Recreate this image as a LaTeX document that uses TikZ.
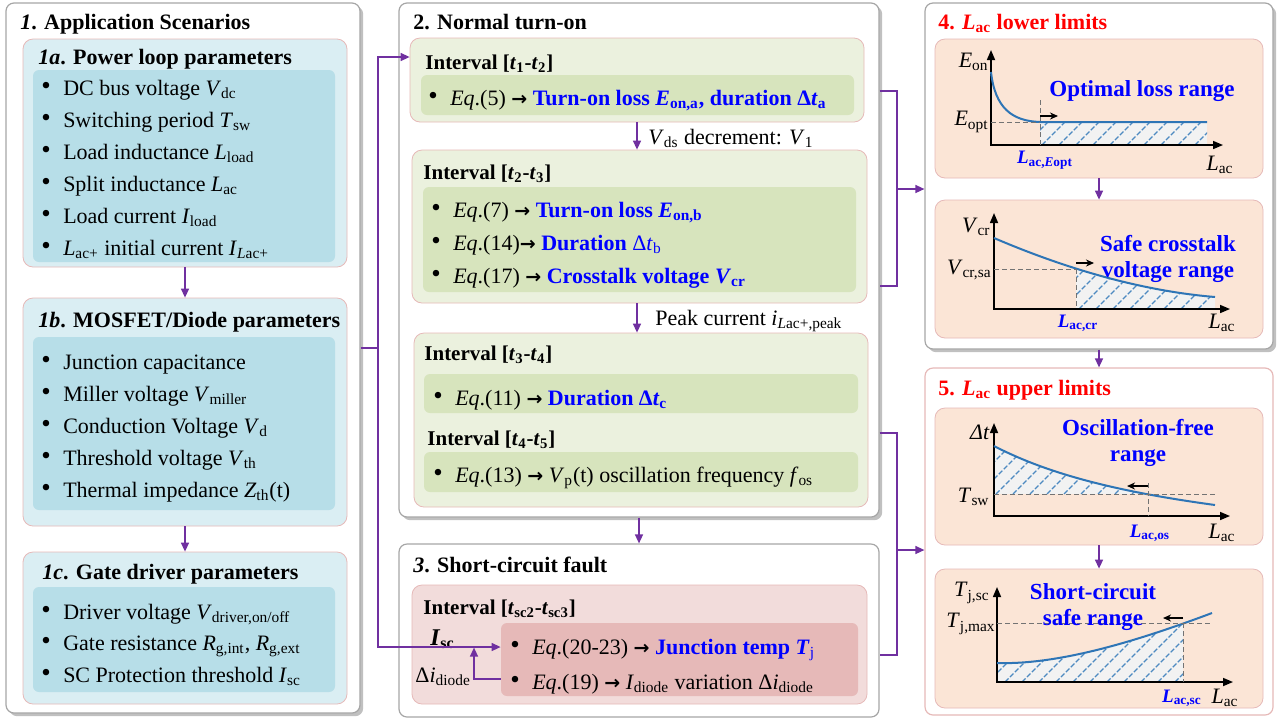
\documentclass[tikz,border=0pt]{standalone}
\usepackage{fontspec}
\setmainfont{Liberation Serif}
\newfontfamily\arrowfont{DejaVu Sans}
\usepackage{xcolor}
\usetikzlibrary{arrows.meta,fit,shadows}

\definecolor{flowpurple}{HTML}{7030A0}
\definecolor{panelgray}{HTML}{A6A6A6}
\definecolor{boxborder}{HTML}{E6B9B8}
\definecolor{blueouter}{HTML}{DAEEF3}
\definecolor{blueinner}{HTML}{B7DEE8}
\definecolor{greenouter}{HTML}{EBF1DE}
\definecolor{greeninner}{HTML}{D7E4BD}
\definecolor{pinkouter}{HTML}{F2DCDB}
\definecolor{pinkinner}{HTML}{E6B9B8}
\definecolor{peachbox}{HTML}{FBE5D6}
\definecolor{curveblue}{HTML}{2E75B6}
\definecolor{hatchgray}{HTML}{F2F2F2}
\definecolor{textblue}{HTML}{0000FF}
\definecolor{titlered}{HTML}{FF0000}

\newcommand{\vs}[2]{\textit{#1}\textsubscript{#2}}
\newcommand{\itembul}{\raisebox{0.3pt}{\fontsize{13.5}{13}\selectfont\textbullet}\hspace{6.2pt}}
\newcommand{\eqarrow}{{\arrowfont\bfseries\fontsize{9.5}{9}\selectfont →}}

\begin{document}
\begin{tikzpicture}[x=0.5pt, y=-0.5pt,
    panel/.style={draw=panelgray, fill=white, rounded corners=4pt, line width=0.6pt, inner sep=0pt,
        drop shadow={shadow xshift=1.6pt, shadow yshift=-1.6pt, opacity=0.45, fill=black!55}},
    plain_panel/.style={draw=boxborder, fill=white, rounded corners=4pt, line width=0.6pt, inner sep=0pt},
    blue_box/.style={draw=boxborder, fill=blueouter, rounded corners=5pt, line width=0.4pt, inner sep=0pt},
    blue_inner/.style={fill=blueinner, rounded corners=3pt, inner sep=0pt},
    green_box/.style={draw=boxborder, fill=greenouter, rounded corners=5pt, line width=0.4pt, inner sep=0pt},
    green_inner/.style={fill=greeninner, rounded corners=3pt, inner sep=0pt},
    pink_box/.style={draw=boxborder, fill=pinkouter, rounded corners=5pt, line width=0.4pt, inner sep=0pt},
    pink_inner/.style={fill=pinkinner, rounded corners=3pt, inner sep=0pt},
    peach_box/.style={draw=boxborder, fill=peachbox, rounded corners=5pt, line width=0.4pt, inner sep=0pt},
    title_text/.style={anchor=base west, inner sep=0pt, font=\fontsize{11}{13}\selectfont\bfseries},
    head_text/.style={anchor=base west, inner sep=0pt, font=\fontsize{10.5}{13}\selectfont\bfseries},
    item_text/.style={anchor=base west, inner sep=0pt, font=\fontsize{11}{13}\selectfont},
    plot_label/.style={inner sep=0pt, font=\fontsize{11}{12}\selectfont},
    tick_label/.style={inner sep=0pt, text=textblue, font=\fontsize{9.5}{11}\selectfont\bfseries},
    range_text/.style={inner sep=0pt, align=center, text=textblue, font=\fontsize{11.5}{11}\selectfont\bfseries},
    flow_line/.style={draw=flowpurple, line width=0.7pt},
    flow_arrow/.style={flow_line, -{Triangle[length=4.5pt, width=4pt]}},
    axis_line/.style={line width=0.8pt, {Triangle[length=5pt, width=4pt]}-{Triangle[length=5pt, width=4pt]}},
    curve_line/.style={draw=curveblue, line width=1pt},
    hatch_line/.style={draw=curveblue!85, line width=0.6pt, dash pattern=on 2.5pt off 1pt},
    guide_line/.style={draw=black!55, line width=0.4pt, dash pattern=on 2.5pt off 1.5pt},
    small_arrow/.style={line width=0.6pt, -{Stealth[length=4pt, width=3.5pt]}}
]
\useasboundingbox (0,0) rectangle (1278,719);

    % --- Panels ---
    \node[panel, fit={(6,3) (360,713)}] (p1) {};
    \node[panel, fit={(399,3) (879,517)}] (p2) {};
    \node[plain_panel, draw=panelgray, fit={(399,544) (879,717)}] (p3) {};
    \node[panel, fit={(925,3) (1273,349)}] (p4) {};
    \node[plain_panel, fit={(925,368) (1273,715)}] (p5) {};

    % --- 1. Application scenarios ---
    \node[title_text] (t_p1) at (20,29) {\textit{1}. Application Scenarios};

    \node[blue_box, fit={(23,39) (347,267)}] (b1a) {};
    \node[blue_inner, fit={(33,70) (335,262)}] (b1a_in) {};
    \node[title_text] (t_b1a) at (38,64) {\textit{1a}. Power loop parameters};
    \node[item_text] (a1) at (41,95) {\itembul DC bus voltage \vs{V}{dc}};
    \node[item_text] (a2) at (41,127) {\itembul Switching period \vs{T}{sw}};
    \node[item_text] (a3) at (41,159) {\itembul Load inductance \vs{L}{load}};
    \node[item_text] (a4) at (41,191) {\itembul Split inductance \vs{L}{ac}};
    \node[item_text] (a5) at (41,223) {\itembul Load current \vs{I}{load}};
    \node[item_text] (a6) at (41,255) {\itembul \vs{L}{ac+} initial current \textit{I}\textsubscript{\textit{L}ac+}};

    \node[blue_box, fit={(23,298) (347,526)}] (b1b) {};
    \node[blue_inner, fit={(33,337) (335,510)}] (b1b_in) {};
    \node[title_text] (t_b1b) at (38,327) {\textit{1b}. MOSFET/Diode parameters};
    \node[item_text] (m1) at (41,369) {\itembul Junction capacitance};
    \node[item_text] (m2) at (41,401) {\itembul Miller voltage \vs{V}{miller}};
    \node[item_text] (m3) at (41,433) {\itembul Conduction Voltage \vs{V}{d}};
    \node[item_text] (m4) at (41,465) {\itembul Threshold voltage \vs{V}{th}};
    \node[item_text] (m5) at (41,497) {\itembul Thermal impedance \vs{Z}{th}(t)};

    \node[blue_box, fit={(23,552) (347,704)}] (b1c) {};
    \node[blue_inner, fit={(33,587) (335,692)}] (b1c_in) {};
    \node[title_text] (t_b1c) at (42,579) {\textit{1c}. Gate driver parameters};
    \node[item_text] (g1) at (41,619) {\itembul Driver voltage \vs{V}{driver,on/off}};
    \node[item_text] (g2) at (41,650) {\itembul Gate resistance \vs{R}{g,int}, \vs{R}{g,ext}};
    \node[item_text] (g3) at (41,682) {\itembul SC Protection threshold \vs{I}{sc}};

    % --- 2. Normal turn-on ---
    \node[title_text] (t_p2) at (413,29) {2. Normal turn-on};

    \node[green_box, fit={(410,38) (864,122)}] (i12) {};
    \node[green_inner, fit={(421,75) (854,115)}] (i12_in) {};
    \node[head_text] (t_i12) at (425,69) {Interval [\textit{t}\textsubscript{1}-\textit{t}\textsubscript{2}]};
    \node[item_text] (e5) at (428,105) {\itembul \textit{Eq}.(5) \eqarrow{} \textcolor{textblue}{\textbf{Turn-on loss \textit{E}\textsubscript{on,a}, duration Δ\textit{t}\textsubscript{a}}}};
    \node[item_text] (l_vds) at (648,144) {\vs{V}{ds} decrement: \vs{V}{1}};

    \node[green_box, fit={(412,150) (867,303)}] (i23) {};
    \node[green_inner, fit={(423,187) (856,292)}] (i23_in) {};
    \node[head_text] (t_i23) at (423,179) {Interval [\textit{t}\textsubscript{2}-\textit{t}\textsubscript{3}]};
    \node[item_text] (e7) at (431,217) {\itembul \textit{Eq}.(7) \eqarrow{} \textcolor{textblue}{\textbf{Turn-on loss \textit{E}\textsubscript{on,b}}}};
    \node[item_text] (e14) at (431,250) {\itembul \textit{Eq}.(14)\eqarrow{} \textcolor{textblue}{\textbf{Duration} Δ\textit{t}\textsubscript{b}}};
    \node[item_text] (e17) at (431,283) {\itembul \textit{Eq}.(17) \eqarrow{} \textcolor{textblue}{\textbf{Crosstalk voltage \textit{V}\textsubscript{cr}}}};
    \node[item_text] (l_peak) at (655,325) {Peak current \textit{i}\textsubscript{\textit{L}ac+,peak}};

    \node[green_box, fit={(414,333) (868,507)}] (i35) {};
    \node[green_inner, fit={(424,374) (858,413)}] (i34_in) {};
    \node[green_inner, fit={(424,452) (858,492)}] (i45_in) {};
    \node[head_text] (t_i34) at (424,360) {Interval [\textit{t}\textsubscript{3}-\textit{t}\textsubscript{4}]};
    \node[item_text] (e11) at (433,405) {\itembul \textit{Eq}.(11) \eqarrow{} \textcolor{textblue}{\textbf{Duration Δ\textit{t}\textsubscript{c}}}};
    \node[head_text] (t_i45) at (427,445) {Interval [\textit{t}\textsubscript{4}-\textit{t}\textsubscript{5}]};
    \node[item_text] (e13) at (433,482) {\itembul \textit{Eq}.(13) \eqarrow{} \vs{V}{p}(t) oscillation frequency \vs{f}{os}};

    % --- 3. Short-circuit fault ---
    \node[title_text] (t_p3) at (413,572) {\textit{3}. Short-circuit fault};
    \node[pink_box, fit={(412,585) (867,704)}] (isc) {};
    \node[pink_inner, fit={(501,623) (858,696)}] (isc_in) {};
    \node[head_text] (t_isc) at (423,614) {Interval [\textit{t}\textsubscript{sc2}-\textit{t}\textsubscript{sc3}]};
    \node[item_text] (e20) at (510,654) {\itembul \textit{Eq}.(20-23) \eqarrow{} \textcolor{textblue}{\textbf{Junction temp \textit{T}}\textsubscript{j}}};
    \node[item_text] (e19) at (510,689) {\itembul \textit{Eq}.(19) \eqarrow{} \vs{I}{diode} variation Δ\vs{i}{diode}};
    \node[item_text, font=\fontsize{12}{13}\selectfont\bfseries] (l_isc) at (430,645) {\vs{I}{sc}};
    \node[item_text] (l_di) at (415,682) {Δ\vs{i}{diode}};

    % --- 4. Lac lower limits ---
    \node[title_text, text=titlered] (t_p4) at (938,29) {4. \textit{L}\textsubscript{ac} lower limits};
    \node[peach_box, fit={(935,39) (1263,178)}] (s4a) {};
    \node[peach_box, fit={(935,200) (1263,338)}] (s4b) {};

    % plot: turn-on loss
    \begin{scope}
        \clip (1040,122) rectangle (1207,145);
        \fill[hatchgray] (1040,122) rectangle (1207,145);
        \foreach \hx in {1008,1025,...,1210} \draw[hatch_line] (\hx,145) -- ++(30,-30);
    \end{scope}
    \draw[axis_line] (991,50) -- (991,145) -- (1223,145);
    \draw[curve_line] (991,72) .. controls (995,108) and (1012,121) .. (1040,122) -- (1207,122);
    \draw[guide_line] (991,122) -- (1040,122);
    \draw[guide_line] (1040,100) -- (1040,145);
    \draw[small_arrow] (1040,116) -- (1058,116);
    \node[plot_label, anchor=east] (y_eon) at (989,62) {\vs{E}{on}};
    \node[plot_label, anchor=east] (y_eopt) at (989,122) {\vs{E}{opt}};
    \node[tick_label] (x_eopt) at (1045,160) {\textit{L}\textsubscript{ac,\textit{E}opt}};
    \node[plot_label] (x_lac1) at (1220,165) {\vs{L}{ac}};
    \node[range_text] (r_loss) at (1142,91) {Optimal loss range};

    % plot: crosstalk voltage
    \begin{scope}
        \clip (1076,200) rectangle (1230,309);
        \clip (994,238) .. controls (1050,262) and (1130,290) .. (1215,297) -- (1215,309) -- (994,309) -- cycle;
        \fill[hatchgray] (994,200) rectangle (1230,309);
        \foreach \hx in {1028,1045,...,1230} \draw[hatch_line] (\hx,309) -- ++(50,-50);
    \end{scope}
    \draw[axis_line] (994,213) -- (994,309) -- (1230,309);
    \draw[curve_line] (994,238) .. controls (1050,262) and (1130,290) .. (1215,297);
    \draw[guide_line] (994,269) -- (1076,269);
    \draw[guide_line] (1076,269) -- (1076,309);
    \draw[small_arrow] (1076,263) -- (1094,263);
    \node[plot_label, anchor=east] (y_vcr) at (991,227) {\vs{V}{cr}};
    \node[plot_label, anchor=east] (y_vcrsa) at (992,270) {\vs{V}{cr,sa}};
    \node[tick_label] (x_cr) at (1078,323) {\vs{L}{ac,cr}};
    \node[plot_label] (x_lac2) at (1222,323) {\vs{L}{ac}};
    \node[range_text] (r_cross) at (1168,259) {Safe crosstalk\\[2pt]voltage range};

    % --- 5. Lac upper limits ---
    \node[title_text, text=titlered] (t_p5) at (938,395) {5. \textit{L}\textsubscript{ac} upper limits};
    \node[peach_box, fit={(935,408) (1263,545)}] (s5a) {};
    \node[peach_box, fit={(935,569) (1263,708)}] (s5b) {};

    % plot: oscillation
    \begin{scope}
        \clip (994,400) rectangle (1148,494);
        \clip (994,446) .. controls (1050,475) and (1120,492) .. (1215,505) -- (1215,530) -- (994,530) -- cycle;
        \fill[hatchgray] (994,400) rectangle (1148,494);
        \foreach \hx in {945,962,...,1160} \draw[hatch_line] (\hx,494) -- ++(55,-55);
    \end{scope}
    \draw[axis_line] (994,423) -- (994,516) -- (1230,516);
    \draw[curve_line] (994,446) .. controls (1050,475) and (1120,492) .. (1215,505);
    \draw[guide_line] (994,494) -- (1215,494);
    \draw[guide_line] (1148,483) -- (1148,516);
    \draw[small_arrow] (1148,486) -- (1127,486);
    \node[plot_label, anchor=east] (y_dt) at (990,432) {\textit{Δt}};
    \node[plot_label, anchor=east] (y_tsw) at (990,497) {\vs{T}{sw}};
    \node[tick_label] (x_os) at (1150,533) {\vs{L}{ac,os}};
    \node[plot_label] (x_lac3) at (1222,533) {\vs{L}{ac}};
    \node[range_text] (r_osc) at (1138,443) {Oscillation-free\\[2pt]range};

    % plot: junction temperature
    \begin{scope}
        \clip (997,560) rectangle (1183,682);
        \clip (997,663) .. controls (1060,665) and (1140,640) .. (1212,613) -- (1212,682) -- (997,682) -- cycle;
        \fill[hatchgray] (997,560) rectangle (1183,682);
        \foreach \hx in {920,937,...,1190} \draw[hatch_line] (\hx,682) -- ++(75,-75);
    \end{scope}
    \draw[axis_line] (997,587) -- (997,682) -- (1233,682);
    \draw[curve_line] (997,663) .. controls (1060,665) and (1140,640) .. (1212,613);
    \draw[guide_line] (997,623) -- (1212,623);
    \draw[guide_line] (1183,623) -- (1183,682);
    \draw[small_arrow] (1183,618) -- (1163,618);
    \node[plot_label, anchor=east] (y_tjsc) at (990,593) {\vs{T}{j,sc}};
    \node[plot_label, anchor=east] (y_tjmax) at (996,624) {\vs{T}{j,max}};
    \node[tick_label] (x_sc) at (1182,698) {\vs{L}{ac,sc}};
    \node[plot_label] (x_lac4) at (1225,698) {\vs{L}{ac}};
    \node[range_text] (r_sc) at (1093,607) {Short-circuit\\[2pt]safe range};

    % --- Connectors ---
    \coordinate (bus_mid) at (378,348);
    \coordinate (bus_top) at (378,57);
    \coordinate (bus_bot) at (378,647);
    \coordinate (fb_corner) at (474,679);
    \coordinate (br1_top) at (897,91);
    \coordinate (br1_mid) at (897,189);
    \coordinate (br1_bot) at (897,286);
    \coordinate (br2_top) at (897,433);
    \coordinate (br2_mid) at (897,550);
    \coordinate (br2_bot) at (897,655);

    \draw[flow_arrow] (b1a.south) -- (b1b.north);
    \draw[flow_arrow] (b1b.south) -- (b1c.north);
    \draw[flow_line] (p1.east |- bus_mid) -- (bus_mid);
    \draw[flow_arrow] (bus_mid) -- (bus_top) -- (i12.west |- bus_top);
    \draw[flow_arrow] (bus_mid) -- (bus_bot) -- (isc_in.west |- bus_bot);
    \draw[flow_arrow] (isc_in.west |- fb_corner) -- (fb_corner) -- ([yshift=-0.3pt]fb_corner |- bus_bot);

    \draw[flow_arrow] (i12.south) -- (i23.north -| i12.south);
    \draw[flow_arrow] (i23.south -| i12.south) -- (i35.north -| i12.south);
    \draw[flow_arrow] (p2.south) -- (p3.north);

    \draw[flow_line] (p2.east |- br1_top) -- (br1_top) -- (br1_bot) -- (p2.east |- br1_bot);
    \draw[flow_arrow] (br1_mid) -- (p4.west |- br1_mid);
    \draw[flow_line] (p2.east |- br2_top) -- (br2_top) -- (br2_bot) -- (p3.east |- br2_bot);
    \draw[flow_arrow] (br2_mid) -- (p5.west |- br2_mid);

    \draw[flow_arrow] (s4a.south) -- (s4b.north);
    \draw[flow_arrow] (p4.south) -- (p5.north);
    \draw[flow_arrow] (s5a.south) -- (s5b.north);

\end{tikzpicture}
\end{document}
